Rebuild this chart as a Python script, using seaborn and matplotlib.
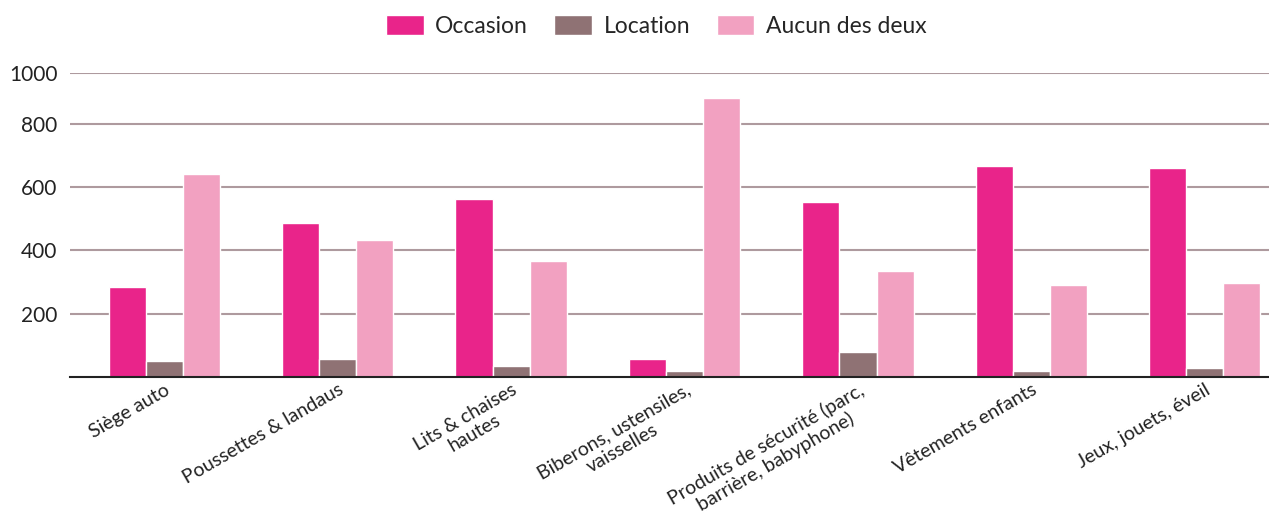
import matplotlib
matplotlib.use("Agg")
import matplotlib.pyplot as plt
import seaborn as sns
import pandas as pd

categories = ["Siège auto", "Poussettes & landaus", "Lits & chaises\nhautes",
              "Biberons, ustensiles,\nvaisselles",
              "Produits de sécurité (parc,\nbarrière, babyphone)",
              "Vêtements enfants", "Jeux, jouets, éveil"]
series = ["Occasion", "Location", "Aucun des deux"]
occasion = [283, 487, 563, 58, 554, 668, 659]
location = [52, 58, 36, 20, 80, 20, 29]
aucun = [642, 434, 367, 882, 336, 292, 298]
colors = ["#E9248A", "#8F7274", "#F2A1C1"]
ytick_vals = [200, 400, 600, 800, 960]
ytick_labels = ["200", "400", "600", "800", "1000"]

df = pd.DataFrame({
    "cat": categories * 3,
    "serie": [series[0]] * 7 + [series[1]] * 7 + [series[2]] * 7,
    "val": occasion + location + aucun,
})

sns.set_theme(style="white")
plt.rcParams["font.family"] = ["Lato", "DejaVu Sans"]

fig = plt.figure(figsize=(12.69, 5.23), dpi=100)
ax = fig.add_axes([70 / 1269, 0.279, 1 - 70 / 1269, 0.5813])

sns.barplot(data=df, x="cat", y="val", hue="serie", hue_order=series,
            order=categories, palette=colors, width=0.64, ax=ax,
            edgecolor="white", linewidth=1.0, saturation=1, legend=True)

ax.set_xlim(-0.542, 6.369)
ax.set_ylim(0, 960)
ax.set_yticks(ytick_vals)
ax.set_yticklabels(ytick_labels, fontsize=15, color="#222222")
ax.yaxis.grid(True, color="#AE9A9E", linewidth=1.5)
ax.set_axisbelow(True)
ax.set_xlabel("")
ax.set_ylabel("")
for s in ["top", "right", "left"]:
    ax.spines[s].set_visible(False)
ax.spines["bottom"].set_color("#222222")
ax.spines["bottom"].set_linewidth(1.5)
ax.tick_params(axis="both", length=0)
ax.tick_params(axis="y", pad=9)
ax.set_xticks(range(len(categories)))
ax.set_xticklabels(categories, rotation=30, ha="right", rotation_mode="anchor",
                   fontsize=14, color="#222222", multialignment="center",
                   linespacing=1.1)
ax.tick_params(axis="x", pad=3)

handles, labels = ax.get_legend_handles_labels()
ax.get_legend().remove()
fig.legend(handles, labels, loc="upper center", bbox_to_anchor=(0.517, 1.0),
           ncol=3, frameon=False, fontsize=16.5, handlelength=1.65, handleheight=0.95,
           handletextpad=0.5, columnspacing=1.15, borderaxespad=0.25)

fig.savefig("out.png", dpi=100)
